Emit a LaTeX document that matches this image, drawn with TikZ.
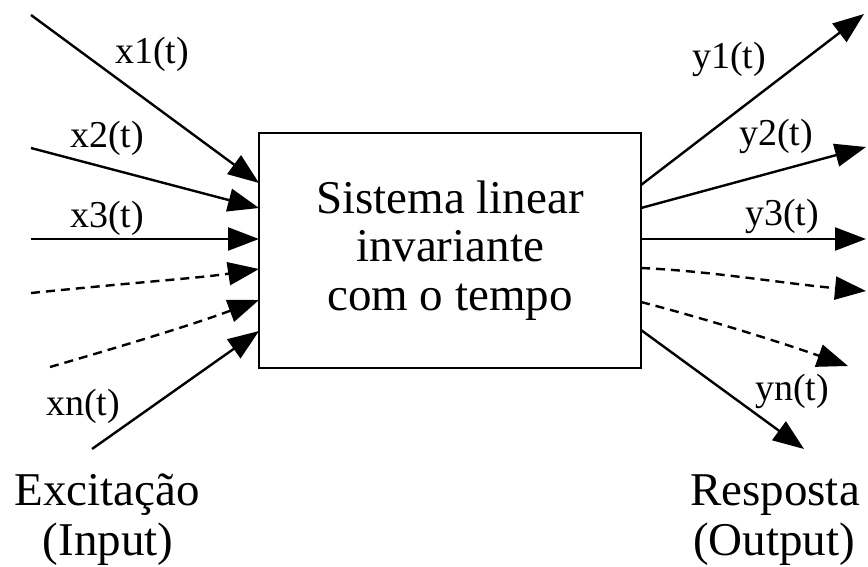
\documentclass[tikz,border=0pt]{standalone}
\usepackage{fontspec}
\setmainfont{Liberation Serif}
\usetikzlibrary{arrows.meta}
\tikzset{
  sig/.style={line width=2.4pt, -{Triangle[length=31pt,width=23pt]}},
  dsig/.style={sig, dash pattern=on 9pt off 6pt},
  lbl/.style={font=\fontsize{38}{40}\selectfont, anchor=base, inner sep=0pt},
  big/.style={font=\fontsize{47}{48.5}\selectfont, align=center, inner sep=0pt},
}
\begin{document}
\begin{tikzpicture}[x=1pt,y=-1pt]
\useasboundingbox (0,0) rectangle (868,566);
\node[draw, line width=2.6pt, minimum width=382pt, minimum height=235pt, inner sep=0pt,
      font=\fontsize{47}{48.5}\selectfont, align=center] (box) at (450,250.5)
      {Sistema linear\\invariante \\com o tempo};
% input ends
\coordinate (a1) at (31,15);   \coordinate (b1) at (259,183);
\coordinate (a2) at (31,148);  \coordinate (b2) at (259,208);
\coordinate (a3) at (31,239);  \coordinate (b3) at (259,239);
\coordinate (a4) at (31,293);  \coordinate (b4) at (259,269);
\coordinate (a5) at (50,367);  \coordinate (b5) at (259,300);
\coordinate (a6) at (92,449);  \coordinate (b6) at (259,331);
% output ends
\coordinate (c1) at (641,185); \coordinate (d1) at (864,14);
\coordinate (c2) at (641,208); \coordinate (d2) at (866,147);
\coordinate (c3) at (641,239); \coordinate (d3) at (866,239);
\coordinate (c4) at (641,268); \coordinate (d4) at (866,291);
\coordinate (c5) at (641,302); \coordinate (d5) at (848,366);
\coordinate (c6) at (641,330); \coordinate (d6) at (804,449);
\draw[sig] (a1) -- (b1);
\draw[sig] (a2) -- (b2);
\draw[sig] (a3) -- (b3);
\draw[dsig] (a4) .. controls (150,281) and (200,278) .. (b4);
\draw[dsig] (a5) .. controls (140,341) and (200,322) .. (b5);
\draw[sig] (a6) -- (b6);
\draw[sig] (c1) -- (d1);
\draw[sig] (c2) -- (d2);
\draw[sig] (c3) -- (d3);
\draw[dsig] (c4) .. controls (710,271) and (780,283) .. (d4);
\draw[dsig] (c5) .. controls (703,318) and (780,342) .. (d5);
\draw[sig] (c6) -- (d6);
% labels
\node[lbl] (lx1) at (152,63) {x1(t)};
\node[lbl] (lx2) at (107,147) {x2(t)};
\node[lbl] (lx3) at (107,227) {x3(t)};
\node[lbl] (lxn) at (83,415) {xn(t)};
\node[lbl] (ly1) at (729,68) {y1(t)};
\node[lbl] (ly2) at (776,145) {y2(t)};
\node[lbl] (ly3) at (782,225) {y3(t)};
\node[lbl] (lyn) at (792,400) {yn(t)};
\node[big, anchor=base] (exc) at (107,505) {Excitação};
\node[big, anchor=base] (inp) at (108,555) {(Input)};
\node[big, anchor=base] (res) at (775,505) {Resposta};
\node[big, anchor=base] (out) at (774,555) {(Output)};
\end{tikzpicture}
\end{document}
